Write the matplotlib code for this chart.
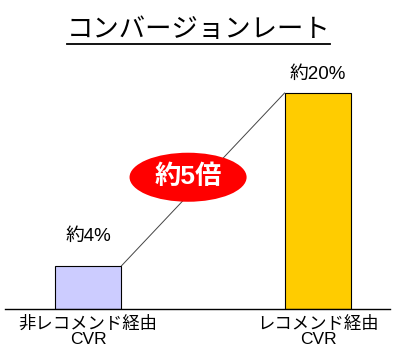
import matplotlib
matplotlib.use('Agg')
import matplotlib.pyplot as plt
from matplotlib.patches import Ellipse
from matplotlib.lines import Line2D

plt.rcParams['font.family'] = ['Liberation Sans', 'Noto Sans CJK JP', 'DejaVu Sans']

# data
categories = ['非レコメンド経由\nCVR', 'レコメンド経由\nCVR']
values = [4, 20]
value_labels = ['約4%', '約20%']
bar_colors = ['#ccccff', '#ffcc00']
title = 'コンバージョンレート'
ratio_label = '約5倍'

fig = plt.figure(figsize=(3.95, 3.61), dpi=100)
ax = fig.add_axes([5 / 395, 52 / 361, 385 / 395, 259.2 / 361])

x = [0, 1]
w = 0.291
ax.bar(x, values, width=w, color=bar_colors, edgecolor='black', linewidth=0.8, zorder=2)
ax.set_xlim(-0.361, 1.313)
ax.set_ylim(0, 24)

# label gaps above bars (in data units)
gaps = [1.9, 0.9]
for xi, v, lab, g in zip(x, values, value_labels, gaps):
    ax.text(xi, v + g, lab, ha='center', va='bottom', fontsize=13.5)

# connector between bar tops
ax.plot([x[0] + w / 2, x[1] - w / 2], [values[0], values[1]],
        color='#444444', lw=0.7, zorder=1)

# ratio badge
ex, ey = 0.435, 12.2
ax.add_patch(Ellipse((ex, ey), 0.509, 4.54, facecolor='#ff0000', edgecolor='none', zorder=3))
ax.text(ex, ey, ratio_label, ha='center', va='center', color='white',
        fontsize=19, fontweight='bold', zorder=4)

ax.set_xticks(x)
ax.set_xticklabels(categories, fontsize=12.5, multialignment='center', linespacing=1.0)
ax.tick_params(axis='x', length=0, pad=5)
ax.set_yticks([])
for s in ['left', 'right', 'top']:
    ax.spines[s].set_visible(False)
ax.spines['bottom'].set_linewidth(1.0)

# underlined title
t = fig.text(198.5 / 395, 1 - 30 / 361, title, ha='center', va='center', fontsize=19)
fig.canvas.draw()
bb = t.get_window_extent().transformed(fig.transFigure.inverted())
uy = 1 - 44 / 361
fig.add_artist(Line2D([bb.x0, bb.x1], [uy, uy], transform=fig.transFigure,
                      color='black', lw=1.3))

fig.savefig('out.png', dpi=100)
